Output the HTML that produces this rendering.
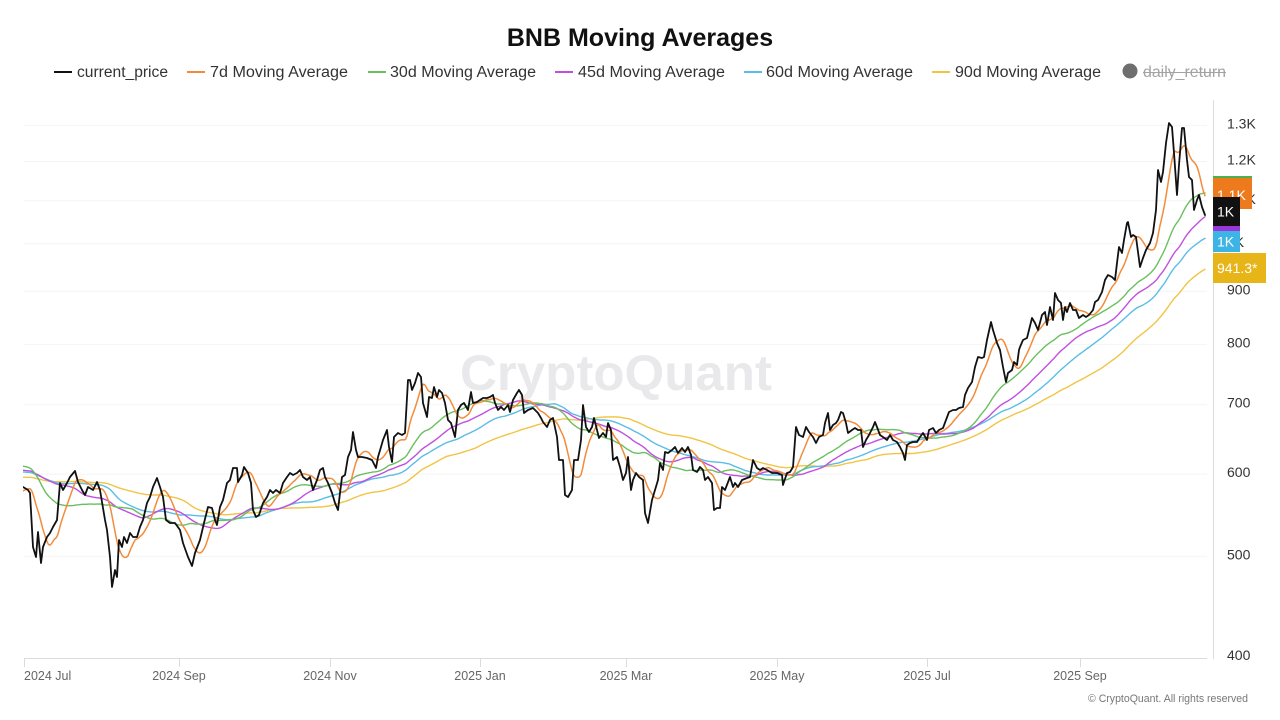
<!DOCTYPE html>
<html>
<head>
<meta charset="utf-8">
<style>
html,body{margin:0;padding:0;background:#fff;}
svg{display:block;}
text{font-family:"Liberation Sans",Arial,sans-serif;}
</style>
</head>
<body>
<svg width="1280" height="720" viewBox="0 0 1280 720">
<rect x="0" y="0" width="1280" height="720" fill="#ffffff"/>
<!-- title -->
<text x="640" y="46" text-anchor="middle" font-size="25" font-weight="bold" fill="#111">BNB Moving Averages</text>
<!-- legend -->
<g font-size="15.5" fill="#333">
<line x1="54" y1="72" x2="72" y2="72" stroke="#111" stroke-width="2"/>
<text x="77" y="77" textLength="91" lengthAdjust="spacingAndGlyphs">current_price</text>
<line x1="187" y1="72" x2="205" y2="72" stroke="#f28c3c" stroke-width="2"/>
<text x="210" y="77" textLength="138" lengthAdjust="spacingAndGlyphs">7d Moving Average</text>
<line x1="368" y1="72" x2="386" y2="72" stroke="#6abf5e" stroke-width="2"/>
<text x="390" y="77" textLength="146" lengthAdjust="spacingAndGlyphs">30d Moving Average</text>
<line x1="555" y1="72" x2="573" y2="72" stroke="#c04fe0" stroke-width="2"/>
<text x="578" y="77" textLength="147" lengthAdjust="spacingAndGlyphs">45d Moving Average</text>
<line x1="744" y1="72" x2="762" y2="72" stroke="#5bbde6" stroke-width="2"/>
<text x="766" y="77" textLength="147" lengthAdjust="spacingAndGlyphs">60d Moving Average</text>
<line x1="932" y1="72" x2="950" y2="72" stroke="#f1c445" stroke-width="2"/>
<text x="955" y="77" textLength="146" lengthAdjust="spacingAndGlyphs">90d Moving Average</text>
<circle cx="1130" cy="71" r="7.5" fill="#6e6e6e"/>
<text x="1143" y="77" textLength="83" lengthAdjust="spacingAndGlyphs" fill="#a3a3a3">daily_return</text>
<line x1="1143" y1="72.5" x2="1226" y2="72.5" stroke="#a3a3a3" stroke-width="1"/>
</g>
<!-- gridlines -->
<g stroke="#f4f4f4" stroke-width="1">
<line x1="24" y1="125.4" x2="1207" y2="125.4"/>
<line x1="24" y1="161.5" x2="1207" y2="161.5"/>
<line x1="24" y1="200.8" x2="1207" y2="200.8"/>
<line x1="24" y1="243.8" x2="1207" y2="243.8"/>
<line x1="24" y1="291.3" x2="1207" y2="291.3"/>
<line x1="24" y1="344.4" x2="1207" y2="344.4"/>
<line x1="24" y1="404.6" x2="1207" y2="404.6"/>
<line x1="24" y1="474.1" x2="1207" y2="474.1"/>
<line x1="24" y1="556.4" x2="1207" y2="556.4"/>
</g>
<!-- watermark -->
<text x="616" y="390" text-anchor="middle" font-size="50" font-weight="bold" fill="#e9e9ec" textLength="312" lengthAdjust="spacingAndGlyphs">CryptoQuant</text>
<!-- axes -->
<line x1="1213.5" y1="100" x2="1213.5" y2="659" stroke="#dcdcdc" stroke-width="1"/>
<line x1="24" y1="658.5" x2="1207" y2="658.5" stroke="#dcdcdc" stroke-width="1"/>
<g stroke="#dcdcdc" stroke-width="1">
<line x1="24.5" y1="658" x2="24.5" y2="667"/>
<line x1="179.5" y1="658" x2="179.5" y2="667"/>
<line x1="330.5" y1="658" x2="330.5" y2="667"/>
<line x1="480.5" y1="658" x2="480.5" y2="667"/>
<line x1="626.5" y1="658" x2="626.5" y2="667"/>
<line x1="777.5" y1="658" x2="777.5" y2="667"/>
<line x1="927.5" y1="658" x2="927.5" y2="667"/>
<line x1="1080.5" y1="658" x2="1080.5" y2="667"/>
</g>
<g font-size="12.5" fill="#666">
<text x="24" y="680">2024 Jul</text>
<text x="179" y="680" text-anchor="middle">2024 Sep</text>
<text x="330" y="680" text-anchor="middle">2024 Nov</text>
<text x="480" y="680" text-anchor="middle">2025 Jan</text>
<text x="626" y="680" text-anchor="middle">2025 Mar</text>
<text x="777" y="680" text-anchor="middle">2025 May</text>
<text x="927" y="680" text-anchor="middle">2025 Jul</text>
<text x="1080" y="680" text-anchor="middle">2025 Sep</text>
</g>
<g font-size="14" fill="#333">
<text x="1227" y="128.4">1.3K</text>
<text x="1227" y="164.5">1.2K</text>
<text x="1227" y="203.8">1.1K</text>
<text x="1227" y="246.8">1K</text>
<text x="1227" y="294.3">900</text>
<text x="1227" y="347.4">800</text>
<text x="1227" y="407.6">700</text>
<text x="1227" y="477.1">600</text>
<text x="1227" y="559.4">500</text>
<text x="1227" y="660">400</text>
</g>
<text x="1248" y="702" text-anchor="end" font-size="11" fill="#777" textLength="160" lengthAdjust="spacingAndGlyphs">© CryptoQuant. All rights reserved</text>
<!-- series -->
<defs><clipPath id="cp"><rect x="23" y="95" width="1184" height="563"/></clipPath></defs>
<g clip-path="url(#cp)" fill="none" stroke-linejoin="round" stroke-linecap="round">
<path id="m90" stroke="#f1c445" stroke-width="1.4" d=""/>
<path id="m60" stroke="#5bbde6" stroke-width="1.4" d=""/>
<path id="m45" stroke="#c04fe0" stroke-width="1.4" d=""/>
<path id="m30" stroke="#6abf5e" stroke-width="1.4" d=""/>
<path id="m7" stroke="#f28c3c" stroke-width="1.5" d=""/>
<path id="pr" stroke="#111" stroke-width="1.8" d=""/>
</g>
<!-- right labels -->
<rect x="1213" y="176" width="39" height="2.5" fill="#4caf50"/>
<rect x="1213" y="178" width="39" height="31" fill="#ee7a1e"/>
<text x="1217" y="200" font-size="14" fill="#fff">1.1K</text>
<rect x="1213" y="197" width="27" height="29" fill="#111"/>
<text x="1217" y="216.5" font-size="14" fill="#fff">1K</text>
<rect x="1213" y="226" width="27" height="5" fill="#9b35dc"/>
<rect x="1213" y="231" width="27" height="21" fill="#3cb4e5"/>
<text x="1217" y="246.5" font-size="14" fill="#fff">1K</text>
<rect x="1213" y="253" width="53" height="30" fill="#e7b517"/>
<text x="1217" y="273" font-size="14" fill="#fff">941.3*</text>
</svg>
<script>
(function(){
var K=451,Y0=657,X0=24.5,DX=2.475;
function y2v(y){return 400*Math.exp((Y0-y)/K);}
function v2y(v){return Y0-K*Math.log(v/400);}
var pre=[[-95,590],[-80,570],[-78,545],[-75,580],[-70,600],[-60,590],[-50,600],[-40,590],[-30,600],[-26,640],[-24,700],[-22,680],[-20,620],[-15,600],[-10,590],[-7,570],[-5,575],[-2,585]];
var tr=[[23,487],[24.7,488],[28,490],[30,493],[33,547],[36,557],[38,532],[41,563],[43,547],[47,537],[50,533],[53,527],[57,520],[60,483],[63,490],[67,483],[70,477],[75,471],[78,482],[82,490],[85,495],[88,487],[93,490],[97,482],[100,490],[102,502],[105,520],[107,530],[110,557],[112,587],[115,570],[117,577],[119,540],[122,547],[124,537],[127,543],[130,533],[133,537],[137,537],[140,527],[143,520],[147,503],[150,497],[153,487],[157,478],[160,487],[163,497],[166,520],[170,523],[175,523],[180,530],[183,543],[188,557],[192,566],[195,553],[200,540],[204,523],[208,507],[212,508],[215,520],[217,525],[220,507],[223,500],[227,483],[230,480],[233,468],[237,468],[238,482],[242,475],[244,467],[248,473],[251,483],[253,510],[256,517],[259,515],[263,503],[267,497],[270,490],[273,493],[276,490],[280,493],[283,483],[287,477],[290,473],[293,475],[297,473],[300,470],[303,477],[307,480],[310,477],[313,490],[317,480],[320,470],[323,468],
[325,477],[328,483],[332,493],[335,503],[338,510],[340,493],[342,477],[345,475],[348,457],[351,450],[353,432],[356,450],[358,457],[362,457],[367,458],[372,460],[376,468],[378,457],[381,447],[383,440],[387,430],[389,447],[392,462],[394,437],[398,433],[402,435],[405,433],[408,380],[410,380],[412,390],[415,383],[418,373],[421,377],[423,403],[427,417],[429,397],[432,398],[434,387],[437,397],[439,390],[442,393],[445,403],[448,420],[451,423],[455,437],[458,410],[461,405],[464,403],[468,410],[471,392],[473,403],[477,402],[480,400],[483,398],[487,398],[490,397],[493,395],[495,403],[498,410],[501,407],[504,410],[508,405],[510,412],[513,400],[517,393],[519,390],[522,395],[524,413],[528,410],[533,408],[538,413],[541,418],[543,422],[547,427],
[550,420],[553,418],[557,437],[559,460],[563,460],[565,495],[568,497],[572,490],[574,460],[578,460],[581,440],[583,405],[586,427],[589,432],[592,427],[594,418],[597,430],[599,438],[603,433],[606,437],[608,423],[611,430],[613,460],[617,457],[620,467],[623,480],[626,473],[628,457],[631,490],[633,480],[636,473],[639,477],[643,480],[645,513],[648,523],[652,500],[655,490],[658,480],[660,463],[663,470],[665,452],[668,453],[672,450],[675,447],[678,453],[682,448],[685,452],[688,447],[691,455],[693,470],[697,472],[700,467],[703,470],[705,480],[708,477],[712,483],[714,510],[717,508],[720,508],[722,487],[725,490],[730,477],[733,487],[735,483],[738,487],[742,480],[747,478],[750,477],[753,460],[757,468],[760,470],[763,468],[767,470],[772,473],[777,473],[782,475],[783,485],[787,473],
[790,472],[793,467],[796,427],[799,435],[803,437],[806,427],[809,432],[813,437],[816,443],[819,437],[823,435],[825,423],[828,413],[830,430],[833,425],[836,423],[838,420],[841,412],[843,413],[846,423],[848,433],[852,430],[855,428],[858,430],[861,430],[863,447],[866,440],[869,435],[873,427],[875,422],[877,427],[880,435],[883,437],[887,440],[890,435],[893,440],[897,442],[900,447],[903,453],[905,460],[907,445],[910,443],[913,442],[917,442],[920,437],[923,433],[927,440],[929,430],[933,428],[936,433],[939,430],[943,428],[946,420],[949,412],[953,410],[956,410],[959,408],[963,407],[965,395],[968,388],[972,382],[975,367],[978,357],[982,358],[984,357],[987,340],[991,322],[993,330],[997,343],[1000,350],[1003,367],[1006,382],[1008,373],[1012,370],[1014,362],[1017,365],[1019,350],
[1020,347],[1023,340],[1027,338],[1029,330],[1032,318],[1035,323],[1038,330],[1042,315],[1045,312],[1047,325],[1050,307],[1053,320],[1055,293],[1058,300],[1061,303],[1063,320],[1065,307],[1067,312],[1070,303],[1073,310],[1076,310],[1079,318],[1083,315],[1086,317],[1089,315],[1093,310],[1095,302],[1098,300],[1102,292],[1105,280],[1108,275],[1112,277],[1115,280],[1117,263],[1119,247],[1122,253],[1124,240],[1127,223],[1128,222],[1131,237],[1133,235],[1136,237],[1140,267],[1143,258],[1146,250],[1150,243],[1153,233],[1156,210],[1158,170],[1161,182],[1163,172],[1166,143],[1169,123],[1172,127],[1174,153],[1177,195],[1179,165],[1182,128],[1184,128],[1187,160],[1189,177],[1192,180],[1194,210],[1197,200],[1199,195],[1202,207],[1205,215]];
var P=[];
pre.forEach(function(p){P.push([X0+p[0]*DX,Math.log(p[1])]);});
tr.forEach(function(p){P.push([p[0],Math.log(y2v(p[1]))]);});
var step=0.25,xs0=P[0][0],xe=P[P.length-1][0];
var n=Math.floor((xe-xs0)/step)+1;
var vals=new Array(n),j=0,i;
for(i=0;i<n;i++){
  var x=xs0+i*step;
  while(j<P.length-2&&P[j+1][0]<x)j++;
  var a=P[j],b=P[j+1];
  var t=(b[0]-a[0])>0?(x-a[0])/(b[0]-a[0]):0;
  t=Math.max(0,Math.min(1,t));
  vals[i]=Math.exp(a[1]+(b[1]-a[1])*t);
}
var cs=new Float64Array(n+1);
for(i=0;i<n;i++)cs[i+1]=cs[i]+vals[i];
function ma(x,days){
  var i1=Math.min(n-1,Math.round((x-xs0)/step));
  var w=Math.round(days*DX/step);
  var i0=Math.max(0,i1-w);
  return (cs[i1+1]-cs[i0])/(i1+1-i0);
}
[['m7',7],['m30',30],['m45',45],['m60',60],['m90',90]].forEach(function(d){
  var s='';
  for(var x=23;x<=1205.01;x+=1.5){
    var xx=Math.min(x,1205);
    s+=(s?'L':'M')+xx.toFixed(1)+','+v2y(ma(xx,d[1])).toFixed(1);
  }
  document.getElementById(d[0]).setAttribute('d',s);
});
var s='';
tr.forEach(function(p){s+=(s?'L':'M')+p[0]+','+p[1];});
document.getElementById('pr').setAttribute('d',s);
})();
</script>
</body>
</html>
